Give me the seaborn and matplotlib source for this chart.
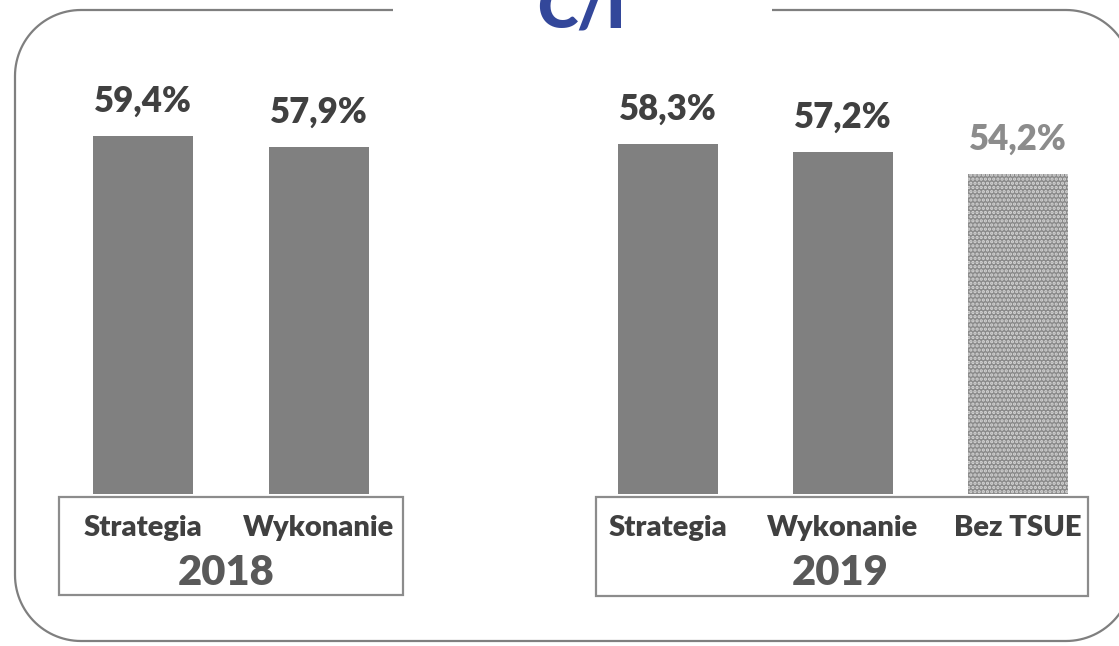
import numpy as np
import matplotlib.pyplot as plt
import seaborn as sns
from matplotlib.patches import Rectangle

# dane
tytul = "C/I"
lata = ["2018", "2019"]
kategorie_2018 = ["Strategia", "Wykonanie"]
wartosci_2018 = [59.4, 57.9]
kategorie_2019 = ["Strategia", "Wykonanie", "Bez TSUE"]
wartosci_2019 = [58.3, 57.2, 54.2]

plt.rcParams['font.family'] = ['Lato', 'DejaVu Sans']
plt.rcParams['hatch.linewidth'] = 1.6
GRUBY = 'heavy'

fig = plt.figure(figsize=(11.19, 6.46), dpi=100)

# tlo: ramka, tytul, pudelka z podpisami (wspolrzedne w pikselach)
bg = fig.add_axes([0, 0, 1, 1])
bg.set_xlim(0, 1119)
bg.set_ylim(646, 0)
bg.axis('off')

# zaokraglona ramka z przerwa na tytul
x0, x1, y0, y1, r = 15, 1132, 10, 641, 66
t = np.linspace(0, np.pi / 2, 30)
xs = np.concatenate([[772], x1 - r + r * np.sin(t), x1 - r + r * np.cos(t),
                     x0 + r - r * np.sin(t), x0 + r - r * np.cos(t), [393]])
ys = np.concatenate([[y0], y0 + r - r * np.cos(t), y1 - r + r * np.sin(t),
                     y1 - r + r * np.cos(t), y0 + r - r * np.sin(t), [y0]])
bg.plot(xs, ys, color='#7f7f7f', lw=1.6, solid_capstyle='butt')

bg.text(581, 27, tytul, ha='center', va='baseline', fontsize=44,
        fontweight=GRUBY, color='#33479a')
bg.add_patch(Rectangle((59, 497), 344, 98, fc='none', ec='#8c8c8c', lw=1.6))
bg.add_patch(Rectangle((596, 497), 492, 99, fc='none', ec='#8c8c8c', lw=1.6))
bg.text(226, 573, lata[0], ha='center', va='center', fontsize=30,
        fontweight=GRUBY, color='#595959')
bg.text(840, 573, lata[1], ha='center', va='center', fontsize=30,
        fontweight=GRUBY, color='#595959')


def rysuj(ax, kat, wart, xlim):
    sns.barplot(x=kat, y=wart, ax=ax, color='#808080', saturation=1, width=0.57)
    ax.set_ylim(10.5, 69.7)
    ax.set_xlim(*xlim)
    for s in ax.spines.values():
        s.set_visible(False)
    ax.set_yticks([])
    ax.set_xlabel('')
    ax.set_ylabel('')
    ax.tick_params(axis='x', length=0, pad=15, labelsize=21, labelcolor='#404040')
    for tl in ax.get_xticklabels():
        tl.set_fontweight(GRUBY)
    ax.patch.set_alpha(0)
    etykiety = [f"{v:.1f}%".replace('.', ',') for v in wart]
    return ax.bar_label(ax.containers[0], labels=etykiety, padding=13,
                        fontsize=25, fontweight=GRUBY, color='#404040')


ax1 = fig.add_axes([59 / 1119, 152 / 646, 344 / 1119, 434 / 646])
rysuj(ax1, kategorie_2018, wartosci_2018, (-0.48, 1.48))

ax2 = fig.add_axes([596 / 1119, 152 / 646, 492 / 1119, 434 / 646])
teksty = rysuj(ax2, kategorie_2019, wartosci_2019, (-0.41, 2.40))
teksty[2].set_color('#8c8c8c')
p = ax2.patches[2]
p.set_facecolor('#8a8a8a')
p.set_edgecolor('#d8d8d8')
p.set_hatch('....')
p.set_linewidth(0)

fig.savefig('out.png', dpi=100)
